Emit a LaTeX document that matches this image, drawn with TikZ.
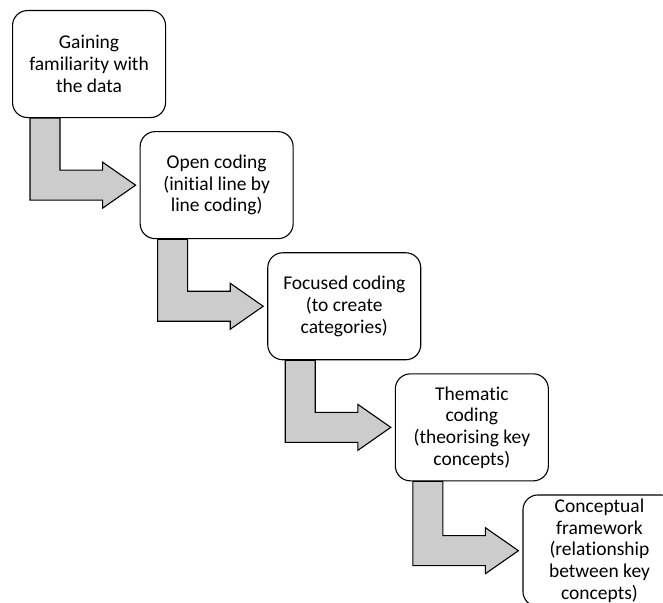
\documentclass[tikz,border=0pt]{standalone}
\usepackage{fontspec}
\setmainfont{Carlito}[Ligatures=NoCommon]
\usetikzlibrary{positioning,calc}

\begin{document}
\begin{tikzpicture}[
    stage/.style={
        draw,
        rounded corners=15pt,
        align=center,
        minimum width=153pt,
        minimum height=107pt,
        inner sep=4pt,
        line width=1.1pt,
        font=\fontsize{19.5}{21.7}\selectfont
    },
    bent/.style={
        draw,
        fill=black!20,
        line width=1.1pt,
        to path={let \p1=(\tikztostart.south west), \p2=(\tikztotarget.west) in
            (\x1+18pt,\y1) -- (\x1+48pt,\y1) -- (\x1+48pt,\y2+15pt)
            -- (\x2-37pt,\y2+15pt) -- (\x2-37pt,\y2+23pt) -- (\x2-4pt,\y2)
            -- (\x2-37pt,\y2-23pt) -- (\x2-37pt,\y2-15pt) -- (\x1+18pt,\y2-15pt) -- cycle}
    }
]
\useasboundingbox (0,0) rectangle (663pt,-602pt);
\clip (0,0) rectangle (663pt,-602pt);

\node[stage, anchor=north west] (gain) at (12pt,-10pt) {Gaining\\familiarity with\\the data};
\node[stage, below right=13pt and -26.5pt of gain] (open) {Open coding\\(initial line by\\line coding)};
\node[stage, below right=13pt and -26.5pt of open] (focused) {Focused coding\\(to create\\categories)};
\node[stage, below right=13pt and -26.5pt of focused] (thematic) {Thematic\\coding\\(theorising key\\concepts)};
\node[stage, below right=13pt and -26.5pt of thematic] (framework) {Conceptual\\framework\\(relationship\\between key\\concepts)};

\draw[bent] (gain) to (open);
\draw[bent] (open) to (focused);
\draw[bent] (focused) to (thematic);
\draw[bent] (thematic) to (framework);
\end{tikzpicture}
\end{document}
